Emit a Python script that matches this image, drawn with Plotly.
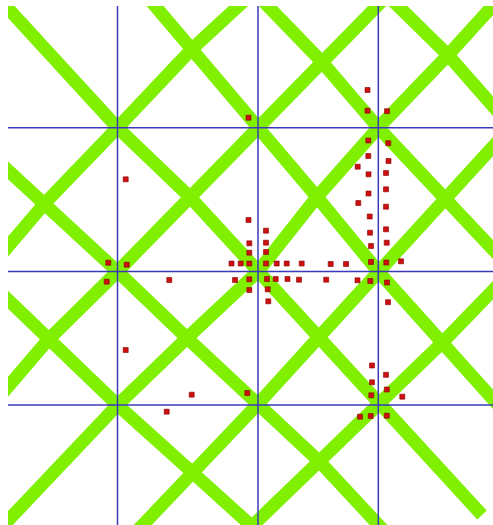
import plotly.graph_objects as go

# blue reference grid (picture units, y grows downward)
grid_x = [117.5, 258, 378.3]
grid_y = [127.7, 271.5, 405]

# green diagonals going down to the right
desc_1_x = [3, 117.5, 190, 258, 319, 378.3, 482]
desc_1_y = [3, 127.7, 197, 271.5, 337, 405, 515]
desc_2_x = [150, 192, 258, 317, 378.3, 442, 500]
desc_2_y = [0, 49, 127.7, 197, 271.5, 343, 407]
desc_3_x = [0, 45, 117.5, 187, 257, 320, 385]
desc_3_y = [163, 203, 271.5, 338, 405, 462, 532]
desc_4_x = [262, 321.7, 378.3, 447, 500]
desc_4_y = [0, 61.7, 127.7, 200, 257]
desc_5_x = [392, 448, 500]
desc_5_y = [0, 55, 114]
desc_6_x = [0, 48, 117.5, 193, 256]
desc_6_y = [292, 340, 405, 473, 530]

# green diagonals going up to the right
asc_1_x = [0, 45, 117.5, 192, 245]
asc_1_y = [256, 203, 127.7, 49, 0]
asc_2_x = [0, 48, 117.5, 190, 258, 321.7, 383]
asc_2_y = [396, 340, 271.5, 197, 127.7, 61.7, 0]
asc_3_x = [0, 117.5, 187, 258, 317, 378.3, 448, 498]
asc_3_y = [529, 405, 338, 271.5, 197, 127.7, 55, 0]
asc_4_x = [138, 193, 257, 319, 378.3, 447, 500]
asc_4_y = [530, 473, 405, 337, 271.5, 200, 139]
asc_5_x = [248, 320, 378.3, 442, 500]
asc_5_y = [530, 462, 405, 343, 283]

# red points
pts_x = [248.5, 125.7, 367.5, 367.5, 387, 368.3, 388.3, 368.3, 388.5, 357.7,
         368.5, 386, 368.5, 386, 358.3, 386, 369.7, 370, 386, 371, 386.7,
         248.5, 266, 249.3, 266, 249.3, 266,
         108.3, 126.7, 231.5, 240.7, 249.3, 266, 276.7, 286.7, 301.7, 330.7,
         346, 371, 386.3, 401,
         106.7, 169.3, 235, 249.3, 267, 275.7, 287.5, 299, 326.2, 357.5,
         370.3, 387,
         249.3, 267.7, 268.3, 388,
         125.7, 191.7, 247.3, 166.7,
         372, 386, 372, 386.8, 371.3, 402.3, 360, 370.7, 386.8]
pts_y = [117.7, 179.3, 90, 110.7, 111.2, 140.5, 143.2, 156, 161, 166.7,
         174.3, 173, 193.5, 189.3, 203, 206.7, 216.5, 232.7, 229.3, 246, 242.7,
         220, 230.7, 243.3, 242.7, 252.7, 252,
         262.7, 264.7, 263.5, 263.5, 263.5, 263.5, 263.5, 263.5, 263.5, 264,
         264, 262, 262.5, 261.3,
         281.7, 280, 280, 279.3, 279, 279, 279, 279.7, 279.7, 280.3,
         281, 282.5,
         290, 289.3, 301.3, 302.2,
         350, 394.7, 393, 411.7,
         365.5, 374.8, 382.3, 389.5, 395.3, 396.7, 416.7, 416, 415.7]

W, H = 493, 525
X0, Y0 = 8, 6

GREEN = '#80f000'
BLUE = '#3a3ab8'
RED = '#cc1010'

fig = go.Figure()

green_lines = [(desc_1_x, desc_1_y), (desc_2_x, desc_2_y), (desc_3_x, desc_3_y),
               (desc_4_x, desc_4_y), (desc_5_x, desc_5_y), (desc_6_x, desc_6_y),
               (asc_1_x, asc_1_y), (asc_2_x, asc_2_y), (asc_3_x, asc_3_y),
               (asc_4_x, asc_4_y), (asc_5_x, asc_5_y)]
for gx, gy in green_lines:
    fig.add_trace(go.Scatter(x=gx, y=gy, mode='lines',
                             line=dict(color=GREEN, width=13),
                             hoverinfo='skip', showlegend=False))

for gx in grid_x:
    fig.add_trace(go.Scatter(x=[gx, gx], y=[Y0, H], mode='lines',
                             line=dict(color=BLUE, width=1.5),
                             hoverinfo='skip', showlegend=False))
for gy in grid_y:
    fig.add_trace(go.Scatter(x=[X0, W], y=[gy, gy], mode='lines',
                             line=dict(color=BLUE, width=1.5),
                             hoverinfo='skip', showlegend=False))

fig.add_trace(go.Scatter(x=pts_x, y=pts_y, mode='markers',
                         marker=dict(symbol='square', size=5, color=RED,
                                     line=dict(color='#8a0000', width=0.6)),
                         showlegend=False))

fig.update_xaxes(range=[X0, W], visible=False, fixedrange=True)
fig.update_yaxes(range=[H, Y0], visible=False, fixedrange=True)
fig.update_layout(width=W, height=H, autosize=False,
                  margin=dict(l=X0, t=Y0, r=0, b=0),
                  plot_bgcolor='white', paper_bgcolor='white')

# page body has a default 8px margin, drop it so the figure sits at 0,0
fig.write_html("out.html", config={'displayModeBar': False},
               post_script="document.body.style.margin='0';"
                           "document.body.style.overflow='hidden';")
